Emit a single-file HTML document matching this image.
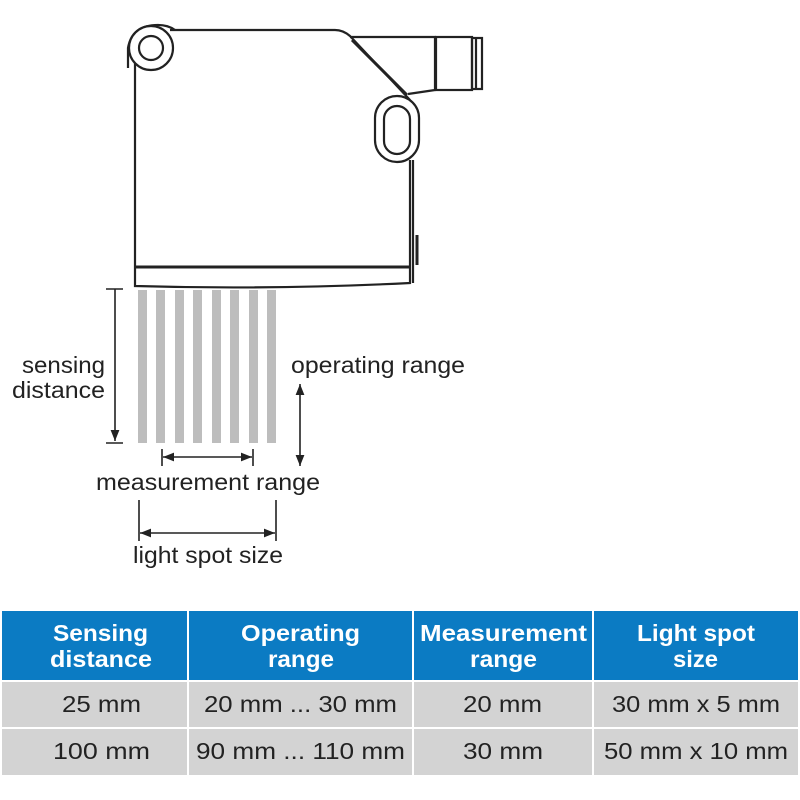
<!DOCTYPE html>
<html><head><style>
html,body{margin:0;padding:0;background:#fff;width:800px;height:800px;overflow:hidden}
svg{position:absolute;left:0;top:0}
text{font-family:"Liberation Sans",sans-serif;fill:#222}
</style></head><body>
<svg width="800" height="800" viewBox="0 0 800 800">
<defs>
<marker id="a" viewBox="0 0 10 10" refX="10" refY="5" markerWidth="7" markerHeight="7" orient="auto-start-reverse"><path d="M0,1 L10,5 L0,9 z" fill="#222"/></marker>
</defs>
<g fill="none" stroke="#222" stroke-width="2.2">
<path d="M135,60 L135,286 Q270,290 410,283 L410,160"/>
<path d="M170,30 L335,30 Q343,30 350,36 L410,100"/>
<line x1="135" y1="267" x2="410" y2="267" stroke-width="3"/>
<path d="M413,160 L413,283"/>
<path d="M417,235 L417,265" stroke-width="3"/>
<path d="M128,68 L128,48 Q132,25 158,25 Q168,25 175,30"/>
<circle cx="151" cy="48" r="22" fill="#fff"/>
<circle cx="151" cy="48" r="12"/>
<path d="M350,37 L435,37 L435,90 L408,94"/>
<path d="M352,40 L407,95" stroke-width="3"/>
<rect x="436" y="37" width="36" height="53"/>
<rect x="472" y="38" width="10" height="51"/>
<line x1="476" y1="38" x2="476" y2="89"/>
<rect x="375" y="96" width="44" height="66" rx="22" fill="#fff"/>
<rect x="384" y="106" width="26" height="48" rx="13"/>
</g>
<g fill="#bdbdbd">
<rect x="138" y="290" width="9" height="153"/><rect x="156" y="290" width="9" height="153"/>
<rect x="175" y="290" width="9" height="153"/><rect x="193" y="290" width="9" height="153"/>
<rect x="212" y="290" width="9" height="153"/><rect x="230" y="290" width="9" height="153"/>
<rect x="249" y="290" width="9" height="153"/><rect x="267" y="290" width="9" height="153"/>
</g>
<g stroke="#222" stroke-width="1.6" fill="none">
<line x1="106" y1="289" x2="123" y2="289"/><line x1="106" y1="443" x2="123" y2="443"/>
<line x1="115" y1="289" x2="115" y2="441" marker-end="url(#a)"/>
<line x1="300" y1="384" x2="300" y2="466" marker-start="url(#a)" marker-end="url(#a)"/>
<line x1="162" y1="449" x2="162" y2="466"/><line x1="253" y1="449" x2="253" y2="466"/>
<line x1="163" y1="457" x2="252" y2="457" marker-start="url(#a)" marker-end="url(#a)"/>
<line x1="139" y1="500" x2="139" y2="541"/><line x1="276" y1="500" x2="276" y2="541"/>
<line x1="140" y1="533" x2="275" y2="533" marker-start="url(#a)" marker-end="url(#a)"/>
</g>
<g font-size="23" lengthAdjust="spacingAndGlyphs">
<text x="22" y="373" textLength="83" lengthAdjust="spacingAndGlyphs">sensing</text>
<text x="12" y="398" textLength="93" lengthAdjust="spacingAndGlyphs">distance</text>
<text x="291" y="373" textLength="174" lengthAdjust="spacingAndGlyphs">operating range</text>
<text x="96" y="490" textLength="224" lengthAdjust="spacingAndGlyphs">measurement range</text>
<text x="133" y="563" textLength="150" lengthAdjust="spacingAndGlyphs">light spot size</text>
</g>
<rect x="2" y="611" width="796" height="69" fill="#0b7bc3"/>
<rect x="2" y="682" width="796" height="45" fill="#d3d3d3"/>
<rect x="2" y="729" width="796" height="46" fill="#d3d3d3"/>
<g fill="#fff"><rect x="187" y="611" width="2" height="164"/><rect x="412" y="611" width="2" height="164"/><rect x="592" y="611" width="2" height="164"/></g>
<g font-size="23" font-weight="bold">
<text x="53" y="641" style="fill:#fff" textLength="95" lengthAdjust="spacingAndGlyphs">Sensing</text>
<text x="50" y="667" style="fill:#fff" textLength="102" lengthAdjust="spacingAndGlyphs">distance</text>
<text x="241" y="641" style="fill:#fff" textLength="119" lengthAdjust="spacingAndGlyphs">Operating</text>
<text x="268" y="667" style="fill:#fff" textLength="66" lengthAdjust="spacingAndGlyphs">range</text>
<text x="420" y="641" style="fill:#fff" textLength="167" lengthAdjust="spacingAndGlyphs">Measurement</text>
<text x="470" y="667" style="fill:#fff" textLength="67" lengthAdjust="spacingAndGlyphs">range</text>
<text x="637" y="641" style="fill:#fff" textLength="118" lengthAdjust="spacingAndGlyphs">Light spot</text>
<text x="673" y="667" style="fill:#fff" textLength="45" lengthAdjust="spacingAndGlyphs">size</text>
</g>
<g font-size="23">
<text x="62" y="712" textLength="79" lengthAdjust="spacingAndGlyphs">25 mm</text>
<text x="204" y="712" textLength="193" lengthAdjust="spacingAndGlyphs">20 mm ... 30 mm</text>
<text x="463" y="712" textLength="79" lengthAdjust="spacingAndGlyphs">20 mm</text>
<text x="612" y="712" textLength="168" lengthAdjust="spacingAndGlyphs">30 mm x 5 mm</text>
<text x="53" y="759" textLength="97" lengthAdjust="spacingAndGlyphs">100 mm</text>
<text x="196" y="759" textLength="209" lengthAdjust="spacingAndGlyphs">90 mm ... 110 mm</text>
<text x="463" y="759" textLength="80" lengthAdjust="spacingAndGlyphs">30 mm</text>
<text x="604" y="759" textLength="184" lengthAdjust="spacingAndGlyphs">50 mm x 10 mm</text>
</g>
</svg>
</body></html>
